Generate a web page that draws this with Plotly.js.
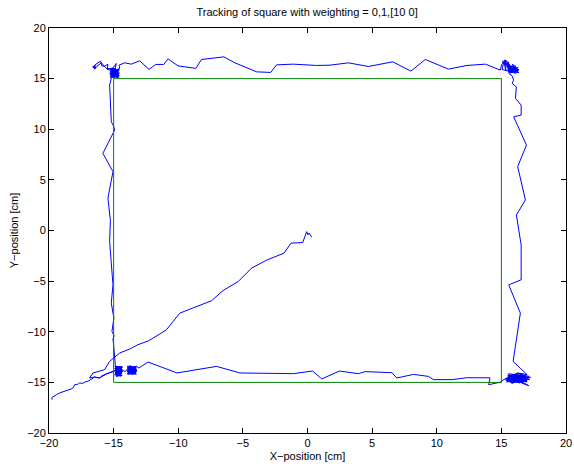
<!DOCTYPE html>
<html>
<head>
<meta charset="utf-8">
<script src="https://cdn.plot.ly/plotly-3.0.1.min.js"></script>
<style>
  html, body { margin: 0; padding: 0; background: #fff; }
  #plot { width: 574px; height: 471px; }
</style>
</head>
<body>
<div id="plot"></div>
<script>
// Reference square the vehicle is asked to follow
const squareX = [-15, 15, 15, -15, -15];
const squareY = [-15, -15, 15, 15, -15];

// Measured trajectory, split into legs (cm)
// Run-in from the lower-left towards the first corner
const approachX = [-19.75, -19.78, -19.71, -19.55, -19.40, -19.19, -18.95, -18.70, -18.50, -18.28, -18.10, -18.02, -17.80, -17.64, -17.40, -17.20, -16.99, -16.80, -16.60, -16.47, -16.30, -16.09, -15.90, -15.75, -15.57, -15.30, -15.05];
const approachY = [-16.71, -16.50, -16.44, -16.35, -16.20, -16.05, -15.95, -15.80, -15.75, -15.65, -15.50, -15.23, -15.20, -15.06, -15.10, -14.95, -14.90, -14.75, -14.62, -14.47, -14.52, -14.57, -14.35, -14.30, -14.17, -14.05, -13.92];

// Settling at the lower-left corner
const cornerLLX = [-14.95, -14.70, -14.85, -14.55, -14.80, -14.40, -14.90, -14.60, -14.35, -14.75, -14.50, -14.88, -14.45, -14.65, -14.32, -14.80, -14.55, -14.70, -14.38, -14.90, -14.60, -14.48, -14.78, -14.42,
  -14.92, -14.32, -14.88, -14.36, -14.90, -14.30, -14.85, -14.40, -14.92, -14.34, -14.80, -14.38, -14.88, -14.33, -14.76, -14.42, -14.90, -14.35, -14.84, -14.45, -14.85];
const cornerLLY = [-13.92, -13.50, -14.20, -13.40, -13.75, -14.35, -13.60, -14.10, -13.55, -14.40, -13.80, -14.05, -13.45, -14.30, -13.90, -13.45, -14.15, -13.70, -14.20, -13.85, -13.55, -14.40, -13.95, -13.65,
  -13.40, -13.50, -13.62, -13.72, -13.85, -13.95, -14.05, -14.12, -14.25, -14.32, -14.40, -13.42, -13.55, -13.80, -14.30, -13.60, -14.15, -14.05, -13.70, -13.90, -13.33];

// Left side, going up
const leftX = [-14.87, -14.98, -15.05, -14.96, -15.13, -14.98, -15.10, -15.18, -15.05, -15.31, -15.25, -15.44, -15.05, -15.83, -14.92, -15.00, -15.18, -15.31, -15.18];
const leftY = [-13.25, -11.61, -10.70, -10.40, -9.97, -8.65, -7.80, -7.17, -5.36, -1.09, 1.00, 3.19, 5.81, 7.62, 9.92, 10.30, 10.74, 14.36, 15.02];

// Upper-left corner
const cornerULX = [-15.28, -14.58, -15.22, -14.62, -15.30, -14.55, -15.18, -14.66, -15.26, -14.60, -15.12, -14.72, -15.05, -14.58, -15.24, -14.70, -15.16, -14.64, -15.30, -14.56, -15.08, -14.80, -15.20, -14.68, -15.02, -14.60, -15.27, -14.74, -15.14, -14.62,
  -15.10, -14.75, -15.25, -14.60, -15.05, -14.80, -15.20, -14.65, -15.00, -14.70, -15.30, -14.90, -15.15, -14.85, -15.57, -15.95, -16.34, -16.60, -16.40, -16.62, -16.35, -16.50, -16.47, -16.01, -15.90, -15.70, -15.44, -15.50, -15.18, -14.79, -14.95, -15.10, -14.70, -14.95, -14.62, -14.53];
const cornerULY = [15.12, 15.22, 15.30, 15.38, 15.48, 15.55, 15.62, 15.70, 15.78, 15.86, 15.94, 15.20, 15.98, 15.42, 15.18, 15.88, 15.40, 15.62, 15.66, 15.30, 15.14, 15.82, 15.52, 15.08, 15.72, 15.96, 15.35, 15.48, 15.86, 15.14,
  15.20, 15.60, 15.45, 15.15, 15.85, 15.30, 15.70, 15.90, 15.25, 15.75, 15.95, 15.50, 16.05, 15.95, 16.01, 16.56, 16.16, 16.10, 16.25, 16.20, 16.05, 15.95, 16.33, 16.73, 16.25, 16.23, 16.43, 15.90, 15.84, 16.50, 15.60, 15.35, 15.45, 15.10, 15.70, 16.16];

// Top side, going right
const topX = [-14.59, -14.15, -13.63, -12.98, -12.26, -11.74, -11.12, -10.79, -10.02, -8.64, -8.20, -6.47, -5.62, -3.94, -2.85, -2.39, -1.10, 0.71, 1.74, 3.16, 4.71, 6.60, 8.00, 9.11, 10.91, 12.34, 13.76, 14.92];
const topY = [16.33, 16.56, 16.43, 16.76, 15.91, 16.40, 16.40, 16.95, 16.26, 16.01, 16.89, 17.15, 16.56, 15.67, 15.61, 16.36, 16.43, 16.30, 16.33, 16.56, 16.20, 16.66, 15.74, 16.89, 15.94, 16.30, 16.43, 15.84];

// Upper-right corner
const cornerURX = [15.02, 15.40, 15.10, 15.50, 15.05, 15.35, 15.20, 15.55,
  15.45, 16.30, 15.50, 16.25, 15.60, 16.34, 15.55, 16.20, 15.70, 16.30, 15.48, 16.10, 15.65, 16.28, 15.58, 16.15, 15.80, 16.32, 15.52, 16.05,
  15.05, 15.20, 15.35, 15.30, 15.55, 15.45, 15.80, 15.60, 16.05, 15.70, 16.30, 15.85, 16.20, 15.95, 16.35, 15.65, 16.10, 15.40, 15.90, 15.50, 15.75, 16.15, 15.60, 15.57];
const cornerURY = [16.40, 16.75, 16.55, 16.30, 16.70, 16.45, 16.82, 16.60,
  16.20, 15.60, 16.05, 15.75, 15.95, 15.85, 15.70, 16.00, 15.55, 16.10, 15.88, 15.52, 16.18, 15.68, 15.62, 16.12, 16.22, 15.90, 15.78, 15.58,
  15.90, 16.70, 15.75, 16.85, 15.95, 16.55, 15.70, 16.40, 15.65, 16.25, 15.80, 16.45, 15.55, 16.10, 15.60, 15.85, 16.25, 16.20, 15.60, 16.65, 15.95, 15.95, 15.62, 15.51];

// Right side, going down
const rightX = [15.83, 15.95, 15.83, 16.16, 16.09, 16.53, 16.53, 15.95, 16.94, 16.26, 16.86, 16.16, 16.53, 16.53, 15.57, 16.47, 15.91, 16.99];
const rightY = [15.28, 14.85, 14.53, 14.19, 13.05, 12.39, 11.40, 11.23, 8.44, 6.30, 3.02, 1.53, -1.42, -4.87, -5.37, -8.16, -12.93, -14.24];

// Lower-right corner
const cornerLRX = [16.40, 15.50, 17.10, 15.35, 16.80, 15.70, 17.20, 15.45, 16.60, 15.90, 17.00, 15.30, 16.30, 16.90, 15.60, 16.50, 15.80, 17.15, 15.55, 16.20, 16.70, 15.40, 16.95, 16.00,
  15.50, 16.95, 15.60, 16.90, 15.45, 16.98, 15.70, 16.85, 15.55, 16.92, 15.65, 16.80, 15.48, 16.96, 15.75, 16.70, 15.52, 16.88, 15.62, 16.94, 15.90, 16.60, 16.00, 16.75, 15.58, 16.40, 15.68, 16.97, 16.20, 15.80, 16.50, 15.54, 16.82, 15.95, 16.65, 15.72, 16.30, 15.85, 16.10, 16.55,
  15.65, 16.45, 17.25, 15.85, 16.55, 16.15, 17.12, 16.75, 15.95, 15.20, 14.98];
const cornerLRY = [-14.10, -14.35, -14.55, -14.80, -14.30, -15.00, -14.70, -14.50, -14.95, -14.20, -14.90, -14.65, -14.05, -14.60, -14.85, -14.40, -15.10, -14.40, -14.15, -15.05, -14.15, -14.95, -14.80, -14.45,
  -14.30, -14.40, -14.55, -14.62, -14.75, -14.85, -14.95, -14.50, -14.42, -14.70, -14.88, -14.32, -14.60, -14.95, -14.28, -15.02, -14.85, -14.28, -14.68, -14.55, -15.05, -14.26, -14.30, -14.90, -14.50, -15.06, -14.38, -14.78, -14.24, -14.98, -14.35, -14.65, -14.45, -14.80, -14.62, -14.48, -15.00, -14.58, -14.70, -14.82,
  -14.60, -14.75, -14.50, -14.70, -14.25, -14.85, -15.33, -15.05, -14.55, -14.70, -14.96];

// Bottom side, going left
const bottomX = [14.02, 14.12, 12.34, 11.18, 9.75, 9.36, 8.20, 6.91, 6.53, 4.46, 3.94, 2.47, 1.10, 0.40, -1.10, -5.23, -7.04, -10.09, -12.34, -13.04];
const bottomY = [-15.23, -14.55, -14.54, -14.73, -14.73, -14.41, -14.21, -14.57, -14.04, -13.94, -14.14, -13.88, -14.66, -13.88, -14.14, -14.07, -13.42, -14.07, -12.99, -13.58];

// Settling again near the start corner
const finishX = [-13.25, -13.50, -13.35, -13.75, -13.30, -13.90, -13.45, -13.65, -13.22, -13.80, -13.55, -13.95, -13.40, -13.70, -13.60, -13.85,
  -13.22, -13.95, -13.25, -13.92, -13.20, -13.96, -13.28, -13.90, -13.24, -13.94, -13.30, -13.88, -13.22, -13.93, -13.35, -13.85, -13.26, -13.97, -13.40, -13.80,
  -14.10, -14.40, -14.70, -14.85, -15.05];
const finishY = [-13.40, -14.20, -13.55, -13.35, -14.00, -13.80, -13.70, -14.25, -13.75, -13.50, -13.95, -14.10, -14.15, -13.60, -13.40, -14.05,
  -13.45, -13.55, -13.65, -13.72, -13.85, -13.92, -14.02, -14.12, -14.20, -13.40, -13.50, -13.62, -13.95, -14.18, -13.38, -14.22, -13.78, -13.88, -14.10, -13.45,
  -13.95, -13.70, -14.20, -13.80, -13.92];

// Leg between the corner and the centre
const centreX = [-15.57, -16.09, -16.47, -16.86, -16.60, -15.70, -15.31, -14.53, -13.76, -13.12, -12.27, -10.91, -9.88, -7.43, -6.53, -5.36, -4.33, -3.12, -1.82, -1.28, -0.37, -0.06, 0.04, 0.12, 0.33];
const centreY = [-14.17, -14.57, -14.47, -14.57, -14.07, -13.75, -12.93, -12.10, -11.71, -11.28, -10.88, -9.80, -8.16, -6.94, -5.93, -5.04, -3.72, -2.90, -2.24, -1.25, -1.19, -0.11, -0.43, -0.25, -0.66];

const legsX = [approachX, cornerLLX, leftX, cornerULX, topX, cornerURX, rightX, cornerLRX, bottomX, finishX, centreX];
const legsY = [approachY, cornerLLY, leftY, cornerULY, topY, cornerURY, rightY, cornerLRY, bottomY, finishY, centreY];
const pathX = [].concat(...legsX);
const pathY = [].concat(...legsY);

const font = { family: 'Liberation Sans, Arial, Helvetica, sans-serif', size: 11, color: '#000' };

const traces = [
  { x: pathX, y: pathY, type: 'scatter', mode: 'lines',
    line: { color: '#0000ff', width: 1 }, hoverinfo: 'skip' },
  { x: squareX, y: squareY, type: 'scatter', mode: 'lines',
    line: { color: '#008000', width: 1 }, hoverinfo: 'skip' }
];

const axisCommon = {
  range: [-20, 20], tick0: -20, dtick: 5,
  ticks: 'inside', ticklen: 5, tickwidth: 1, tickcolor: '#000',
  showline: true, mirror: 'ticks', linecolor: '#000', linewidth: 1,
  showgrid: false, zeroline: false, tickfont: font
};

const layout = {
  width: 574, height: 471,
  margin: { l: 49, r: 8, t: 28, b: 38 },
  paper_bgcolor: '#fff', plot_bgcolor: '#fff',
  showlegend: false,
  font: font,
  title: { text: 'Tracking of square with weighting = 0,1,[10 0]', font: font,
           x: 0.535, xanchor: 'center', y: 0.974, yanchor: 'middle' },
  xaxis: Object.assign({}, axisCommon, { title: { text: 'X\u2212position [cm]', font: font, standoff: 4 } }),
  yaxis: Object.assign({}, axisCommon, { title: { text: 'Y\u2212position [cm]', font: font, standoff: 6 } })
};

Plotly.newPlot('plot', traces, layout, { staticPlot: true, displayModeBar: false });
</script>
</body>
</html>
